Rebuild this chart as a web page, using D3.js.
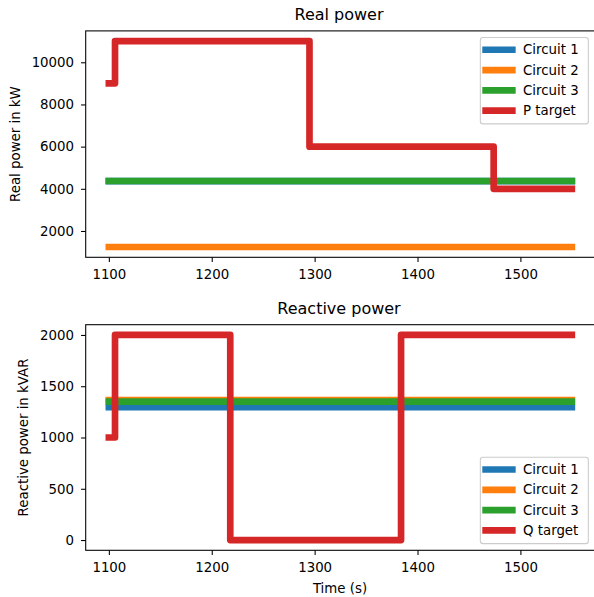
<!DOCTYPE html>
<html>
<head>
<meta charset="utf-8">
<script src="https://cdn.jsdelivr.net/npm/d3@7"></script>
<style>
  body { margin: 0; background: #fff; }
  text { font-family: "DejaVu Sans", sans-serif; }
</style>
</head>
<body>
<script>
// data
const timeStart = 1100, timeEnd = 1550;
const circuitNames = ["Circuit 1", "Circuit 2", "Circuit 3"];
const colors = ["#1f77b4", "#ff7f0e", "#2ca02c", "#d62728"];
const realCircuits = [4365, 1240, 4370];
const reactiveCircuits = [1295, 1365, 1350];
const pTargetTimes = [1100, 1106, 1295, 1474, 1550];
const pTargetValues = [9000, 11000, 6000, 4000, 4000];
const qTargetTimes = [1100, 1106, 1218, 1384, 1550];
const qTargetValues = [1000, 2000, 0, 2000, 2000];
const xTicks = [1100, 1200, 1300, 1400, 1500];
const realTicks = [2000, 4000, 6000, 8000, 10000];
const reactiveTicks = [0, 500, 1000, 1500, 2000];

var svgWidth = 594;
var svgHeight = 597;
const lw = 6.67;      // 5pt lines
const fs = 13.33;     // 10pt text
const left = 85.7, right = 595;

var svg = d3.select("body").append("svg")
  .attr("width", svgWidth)
  .attr("height", svgHeight);

// matplotlib style 5% margins
function padded(lo, hi) {
  var s = hi - lo;
  return [lo - 0.05 * s, hi + 0.05 * s];
}

var x = d3.scaleLinear()
  .domain(padded(timeStart, timeEnd))
  .range([left, right]);

function panel(cfg) {
  var all = cfg.circuits.concat(cfg.targetValues);
  var y = d3.scaleLinear()
    .domain(padded(d3.min(all), d3.max(all)))
    .range([cfg.bottom, cfg.top]);

  var g = svg.append("g");

  // circuit lines
  cfg.circuits.forEach(function (v, i) {
    g.append("line")
      .attr("x1", x(timeStart)).attr("x2", x(timeEnd))
      .attr("y1", y(v)).attr("y2", y(v))
      .attr("stroke", colors[i])
      .attr("stroke-width", lw)
      .attr("stroke-linecap", "square");
  });

  // target step line
  var pts = cfg.targetTimes.map(function (t, i) { return [t, cfg.targetValues[i]]; });
  var line = d3.line()
    .x(function (d) { return x(d[0]); })
    .y(function (d) { return y(d[1]); })
    .curve(d3.curveStepAfter);
  g.append("path")
    .attr("d", line(pts))
    .attr("fill", "none")
    .attr("stroke", colors[3])
    .attr("stroke-width", lw)
    .attr("stroke-linejoin", "round")
    .attr("stroke-linecap", "square");

  // axes
  var xAxis = g.append("g")
    .attr("transform", "translate(0," + cfg.bottom + ")")
    .call(d3.axisBottom(x).tickValues(xTicks).tickSize(4.67).tickPadding(8)
      .tickSizeOuter(0).tickFormat(d3.format("d")));
  var yAxis = g.append("g")
    .attr("transform", "translate(" + left + ",0)")
    .call(d3.axisLeft(y).tickValues(cfg.ticks).tickSize(4.67).tickPadding(7)
      .tickSizeOuter(0).tickFormat(d3.format("d")));
  [xAxis, yAxis].forEach(function (a) {
    a.selectAll("text").style("font-size", fs + "px")
      .style("font-family", "'DejaVu Sans', sans-serif").attr("fill", "#000");
    a.selectAll("line").attr("stroke", "#000").attr("stroke-width", 1.07);
    a.select(".domain").remove();
  });

  // spines
  g.append("rect")
    .attr("x", left).attr("y", cfg.top)
    .attr("width", right - left).attr("height", cfg.bottom - cfg.top)
    .attr("fill", "none").attr("stroke", "#000").attr("stroke-width", 1.07);

  // title
  g.append("text")
    .attr("x", 339).attr("y", cfg.top - 11)
    .attr("text-anchor", "middle")
    .style("font-size", "16px")
    .text(cfg.title);

  // y label
  g.append("text")
    .attr("transform", "translate(" + cfg.ylabelX + "," + (cfg.top + cfg.bottom) / 2 + ") rotate(-90)")
    .attr("text-anchor", "middle")
    .attr("dy", "0.35em")
    .style("font-size", fs + "px")
    .text(cfg.ylabel);

  // legend
  var boxW = 108, boxH = 86.3;
  var boxX = right - 6.67 - boxW;
  var boxY = cfg.legendTop ? cfg.top + 6.67 : cfg.bottom - 6.67 - boxH;
  var lg = g.append("g");
  lg.append("rect")
    .attr("x", boxX).attr("y", boxY)
    .attr("width", boxW).attr("height", boxH)
    .attr("rx", 2.67)
    .attr("fill", "#fff").attr("fill-opacity", 0.8)
    .attr("stroke", "#cccccc").attr("stroke-width", 1.07);
  var labels = circuitNames.concat([cfg.targetLabel]);
  labels.forEach(function (name, i) {
    var ry = boxY + 12.2 + i * 20.3;
    lg.append("line")
      .attr("x1", boxX + 5.3).attr("x2", boxX + 32)
      .attr("y1", ry).attr("y2", ry)
      .attr("stroke", colors[i])
      .attr("stroke-width", lw)
      .attr("stroke-linecap", "square");
    lg.append("text")
      .attr("x", boxX + 42.7).attr("y", ry)
      .attr("dy", "0.35em")
      .style("font-size", fs + "px")
      .text(name);
  });
}

panel({
  top: 30.9, bottom: 257.3,
  title: "Real power", ylabel: "Real power in kW", ylabelX: 15,
  circuits: realCircuits, targetTimes: pTargetTimes, targetValues: pTargetValues,
  targetLabel: "P target", ticks: realTicks, legendTop: true
});

panel({
  top: 324.7, bottom: 550.3,
  title: "Reactive power", ylabel: "Reactive power in kVAR", ylabelX: 23.8,
  circuits: reactiveCircuits, targetTimes: qTargetTimes, targetValues: qTargetValues,
  targetLabel: "Q target", ticks: reactiveTicks, legendTop: false
});

svg.append("text")
  .attr("x", 340).attr("y", 588)
  .attr("dy", "0.35em")
  .attr("text-anchor", "middle")
  .style("font-size", fs + "px")
  .text("Time (s)");
</script>
</body>
</html>
